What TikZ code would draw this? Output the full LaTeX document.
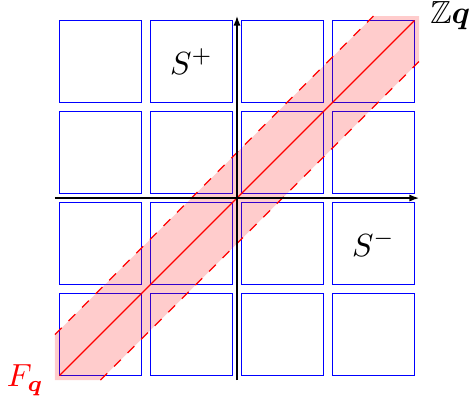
\documentclass[tikz,border=0pt]{standalone}
\usepackage{amsmath}
\usepackage{amssymb}
\usepackage{bm}
\usetikzlibrary{arrows.meta,positioning}

\begin{document}
\begin{tikzpicture}[
  cell/.style={draw=blue},
  band/.style={fill=red,fill opacity=0.2,draw=none},
  edge/.style={red,dashed},
  axis/.style={-{Latex[length=3pt,width=2.2pt]}}
]
\useasboundingbox (-2.604,-2.253) rectangle (2.560,2.176);
\foreach \i in {-2,-1,0,1}
  \foreach \j in {-2,-1,0,1}
    \draw[cell] (\i+0.05,\j+0.05) rectangle (\i+0.95,\j+0.95);
\coordinate (lo) at (-1.95,-1.95);
\coordinate (hi) at (1.95,1.95);
\fill[band] (-2,-2) -- (-1.5,-2) -- (2,1.5) -- (2,2) -- (1.5,2) -- (-2,-1.5) -- cycle;
\draw[edge] (-2,-1.5) -- (1.5,2);
\draw[edge] (-1.5,-2) -- (2,1.5);
\draw[red] (lo) -- (hi);
\draw[axis] (-2,0) -- (2,0);
\draw[axis] (0,-2) -- (0,2);
\node[right] (zq) at (2,2) {$\mathbb{Z}\bm{q}$};
\node[left,red] (fq) at (-2,-2) {$F_{\bm{q}}$};
\node (splus) at (-0.5,1.5) {$S^+$};
\node (sminus) at (1.5,-0.5) {$S^-$};
\end{tikzpicture}
\end{document}
